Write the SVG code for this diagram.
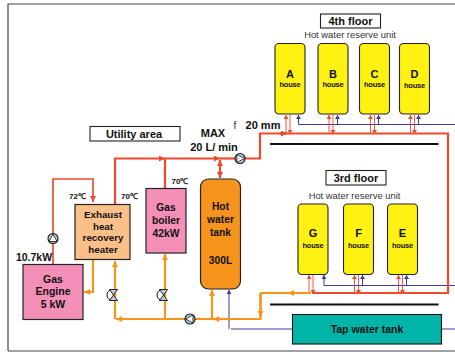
<svg xmlns="http://www.w3.org/2000/svg" width="455" height="352" viewBox="0 0 455 352">
<defs>
<marker id="ar" markerUnits="userSpaceOnUse" markerWidth="7" markerHeight="6" refX="6" refY="3" orient="auto-start-reverse"><path d="M0,0L6,3L0,6Z" fill="#f04a2c"/></marker>
<marker id="ao" markerUnits="userSpaceOnUse" markerWidth="7" markerHeight="6" refX="6" refY="3" orient="auto-start-reverse"><path d="M0,0L6,3L0,6Z" fill="#f7941d"/></marker>
<marker id="ab" markerUnits="userSpaceOnUse" markerWidth="5" markerHeight="5" refX="4" refY="2.500" orient="auto"><path d="M0,0L4,2.500L0,5Z" fill="#3f3a9e"/></marker>
<marker id="at" markerUnits="userSpaceOnUse" markerWidth="5" markerHeight="5" refX="4" refY="2.500" orient="auto-start-reverse"><path d="M0,0L4,2.500L0,5Z" fill="#f04a2c"/></marker>
<g id="pump"><circle r="5" fill="#b9cfdc" stroke="#111" stroke-width="1.100"/><path d="M-4,3L0,-4.500L4,3Z" fill="#fff" stroke="#111" stroke-width=".8"/></g>
<g id="valve"><path d="M-1,-5.500A5.500,5.500 0 0 0 -1,5.500" fill="#fff" stroke="#111"/><path d="M-4,-5.500L4,-5.500L-4,5.500L4,5.500Z" fill="#b9cfdc" stroke="#111" stroke-width=".9"/></g>
</defs>
<style>
text{font-family:"Liberation Sans",Arial,sans-serif;fill:#111;text-anchor:middle}
.b{font-weight:700}
.n{stroke:#222;stroke-width:1.200}
.h{fill:#fff212;stroke:#222;stroke-width:1.100}
.hl{font-size:11px;font-weight:700}
.hs{font-size:7.500px;font-weight:700;letter-spacing:-.2px}
.u{font-size:9.400px;fill:#333}
.r{fill:none;stroke:#f04a2c;stroke-width:2.200}
.o{fill:none;stroke:#f7941d;stroke-width:2.200}
.t{fill:none;stroke:#f04a2c;stroke-width:.9}
.l{fill:none;stroke:#3f3a9e;stroke-width:1}
.lb{fill:#fff;stroke:#222;stroke-width:1.100}
</style>
<path d="M8,351V4H455M8,351H455" fill="none" stroke="#444" stroke-width="1.200"/>
<g id="connectors">
<path class="l" d="M231,329H292M442,329H455"/>
<path class="l" d="M229,329V290" marker-end="url(#ab)"/>
<path class="l" d="M298.500,124.500H455"/>
<path class="l" d="M298.500,124.500V115" marker-end="url(#ab)"/>
<path class="l" d="M337.500,124.500V115" marker-end="url(#ab)"/>
<path class="l" d="M378.500,124.500V115" marker-end="url(#ab)"/>
<path class="l" d="M418.500,124.500V115" marker-end="url(#ab)"/>
<path class="l" d="M324,285.500H455"/>
<path class="l" d="M324,285.500V275" marker-end="url(#ab)"/>
<path class="l" d="M362.500,285.500V275" marker-end="url(#ab)"/>
<path class="l" d="M406.500,285.500V275" marker-end="url(#ab)"/>
<path class="t" d="M286,133V115" marker-end="url(#at)"/><path class="t" d="M290,115V134" marker-end="url(#at)"/>
<path class="t" d="M329,133V115" marker-end="url(#at)"/><path class="t" d="M333,115V134" marker-end="url(#at)"/>
<path class="t" d="M370.500,133V115" marker-end="url(#at)"/><path class="t" d="M374.500,115V134" marker-end="url(#at)"/>
<path class="t" d="M410.500,133V115" marker-end="url(#at)"/><path class="t" d="M414.500,115V134" marker-end="url(#at)"/>
<path class="t" d="M309,293V275" marker-end="url(#at)"/><path class="t" d="M313,275V294" marker-end="url(#at)"/>
<path class="t" d="M354.500,293V275" marker-end="url(#at)"/><path class="t" d="M358.500,275V294" marker-end="url(#at)"/>
<path class="t" d="M398.500,293V275" marker-end="url(#at)"/><path class="t" d="M402.500,275V294" marker-end="url(#at)"/>
<path class="r" d="M236,158.500H260V133.500H448V293H312"/>
<path class="r" d="M115,204V158.500H165" marker-end="url(#ar)"/>
<path class="r" d="M165,158.500H220" marker-end="url(#ar)"/>
<path class="r" d="M220,158.500H236"/>
<path class="r" d="M165,188V158.500"/>
<path class="r" d="M220,160V178" marker-start="url(#ar)" marker-end="url(#ar)"/>
<path class="r" d="M53,264V179H93V202" marker-end="url(#ar)" style="stroke-width:1.700"/>
<path class="r" d="M280,133.500H287" marker-end="url(#ar)"/>
<path class="o" d="M93,260V292H84" marker-end="url(#ao)"/>
<path class="o" d="M115,319V261" marker-end="url(#ao)"/>
<path class="o" d="M165,319V254" marker-end="url(#ao)"/>
<path class="o" d="M212,319V290" marker-end="url(#ao)"/>
<path class="o" d="M231,319H116" marker-end="url(#ao)"/>
<path class="o" d="M231,319H213" marker-end="url(#ao)"/>
<path class="o" d="M231,319H260.500V293"/>
<path class="o" d="M260.500,293V317" marker-end="url(#ao)"/>
<path class="o" d="M311,293H260.500"/>
<path class="o" d="M300,293H288" marker-end="url(#ao)"/>
</g>
<path d="M270,144H438.500M270,304.500H438.500" stroke="#111" stroke-width="2" fill="none"/>
<use href="#pump" transform="translate(53,238.500)"/>
<use href="#pump" transform="translate(240,158.500) rotate(90)"/>
<use href="#pump" transform="translate(190,319) rotate(-90)"/>
<use href="#valve" transform="translate(113.500,295)"/>
<use href="#valve" transform="translate(163.500,295)"/>
<g id="engine"><rect class="n" x="23" y="264.500" width="60" height="55" fill="#f48fb8"/><text class="b" font-size="10.500"><tspan x="53" y="282.500">Gas</tspan><tspan x="53" y="295">Engine</tspan><tspan x="53" y="307.500">5 kW</tspan></text></g>
<g id="exhaust"><rect class="n" x="75" y="204.500" width="55" height="55" fill="#fbbf8a"/><text class="b" font-size="9.800"><tspan x="103" y="218">Exhaust</tspan><tspan x="103" y="229.500">heat</tspan><tspan x="103" y="241">recovery</tspan><tspan x="103" y="252.500">heater</tspan></text></g>
<g id="boiler"><rect class="n" x="146" y="188.500" width="40" height="64.500" fill="#f48fb8"/><text class="b" font-size="10.300"><tspan x="166" y="211">Gas</tspan><tspan x="166" y="224">boiler</tspan><tspan x="166" y="237">42kW</tspan></text></g>
<g id="tank"><rect class="n" x="200.500" y="179" width="40" height="110" rx="8" fill="#f7941d"/><text class="b" font-size="10.300"><tspan x="220.500" y="210">Hot</tspan><tspan x="220.500" y="223">water</tspan><tspan x="220.500" y="236">tank</tspan><tspan x="220.500" y="264">300L</tspan></text></g>
<g id="tap"><rect x="292.500" y="314.500" width="149" height="29.500" fill="#00b5a8" stroke="#111" stroke-width="1.100"/><text class="b" font-size="10.500" x="367" y="333">Tap water tank</text></g>
<g id="house-a"><rect class="h" x="275" y="43.500" width="30" height="70.500" rx="4"/><text class="hl" x="290" y="77.500">A</text><text class="hs" x="290" y="87">house</text></g>
<g id="house-b"><rect class="h" x="318" y="43.500" width="30" height="70.500" rx="4"/><text class="hl" x="333" y="77.500">B</text><text class="hs" x="333" y="87">house</text></g>
<g id="house-c"><rect class="h" x="359.500" y="43.500" width="30" height="70.500" rx="4"/><text class="hl" x="374.500" y="77.500">C</text><text class="hs" x="374.500" y="87">house</text></g>
<g id="house-d"><rect class="h" x="399.500" y="43.500" width="30" height="70.500" rx="4"/><text class="hl" x="414.500" y="77.500">D</text><text class="hs" x="414.500" y="88">house</text></g>
<g id="house-g"><rect class="h" x="298" y="204" width="30" height="70.500" rx="4"/><text class="hl" x="313" y="237">G</text><text class="hs" x="313" y="248">house</text></g>
<g id="house-f"><rect class="h" x="343.500" y="204" width="30" height="70.500" rx="4"/><text class="hl" x="358.500" y="237">F</text><text class="hs" x="358.500" y="248">house</text></g>
<g id="house-e"><rect class="h" x="387.500" y="204" width="30" height="70.500" rx="4"/><text class="hl" x="402.500" y="237">E</text><text class="hs" x="402.500" y="248">house</text></g>
<g id="utility"><rect class="lb" x="90" y="126.500" width="90" height="14.500"/><text class="b" font-size="11" x="134" y="138">Utility area</text></g>
<g id="floor4"><rect class="lb" x="320.500" y="14" width="60" height="14"/><text class="b" font-size="11" x="350.500" y="25">4th floor</text></g>
<g id="floor3"><rect class="lb" x="326" y="170.500" width="60" height="14.500"/><text class="b" font-size="11" x="356" y="181.500">3rd floor</text></g>
<text class="u" x="350" y="38">Hot water reserve unit</text>
<text class="u" x="354.500" y="199">Hot water reserve unit</text>
<text class="b" font-size="11" x="213" y="136.500">MAX</text>
<text class="b" font-size="11" x="214" y="151">20 L/ min</text>
<text font-size="10" x="235" y="129" style="fill:#333">f</text>
<text class="b" font-size="11" x="263" y="129">20 mm</text>
<text class="b" font-size="8" x="77.500" y="199">72℃</text>
<text class="b" font-size="8" x="129.500" y="199">70℃</text>
<text class="b" font-size="8" x="180" y="184">70℃</text>
<text class="b" font-size="10.500" x="34" y="261">10.7kW</text>
</svg>
